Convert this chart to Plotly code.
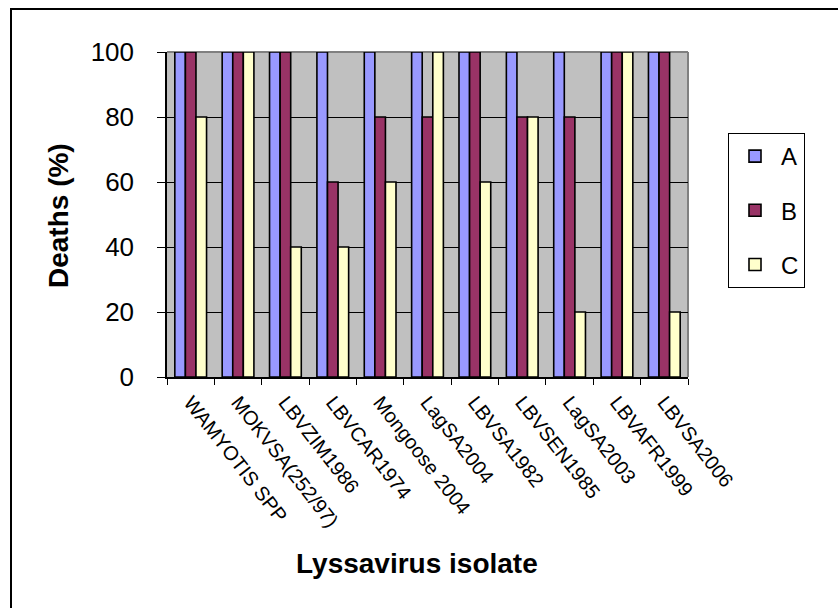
import plotly.graph_objects as go

# Lyssavirus isolates and percent deaths for the three groups
isolates = [
    "WAMYOTIS SPP", "MOKVSA(252/97)", "LBVZIM1986", "LBVCAR1974",
    "Mongoose 2004", "LagSA2004", "LBVSA1982", "LBVSEN1985",
    "LagSA2003", "LBVAFR1999", "LBVSA2006",
]
deaths_a = [100, 100, 100, 100, 100, 100, 100, 100, 100, 100, 100]
deaths_b = [100, 100, 100, 60, 80, 80, 100, 80, 80, 100, 100]
deaths_c = [80, 100, 40, 40, 60, 100, 60, 80, 20, 100, 20]

series = [
    ("A", deaths_a, "#9999FF"),
    ("B", deaths_b, "#993366"),
    ("C", deaths_c, "#FFFFCC"),
]

FONT = "Liberation Sans, Arial, sans-serif"

W, H = 838, 608
L, R, T, B = 167, 150, 52, 231
pw, ph = W - L - R, H - T - B


def px_x(x):
    return (x - L) / pw


def px_y(y):
    return (H - B - y) / ph


fig = go.Figure()
for name, vals, color in series:
    fig.add_trace(go.Bar(
        x=isolates, y=vals, name=name, legendgroup=name,
        marker=dict(color=color, line=dict(color="black", width=1.6)),
    ))

fig.update_layout(
    width=W, height=H,
    margin=dict(l=L, r=R, t=T, b=B, autoexpand=False),
    paper_bgcolor="white",
    plot_bgcolor="#C0C0C0",
    barmode="group", bargap=0.33, bargroupgap=0,
    font=dict(family=FONT, color="black"),
    showlegend=True,
    legend=dict(
        x=px_x(728), y=px_y(133), xanchor="left", yanchor="top",
        bgcolor="white", bordercolor="black", borderwidth=1,
        font=dict(size=24, family=FONT),
        traceorder="grouped", tracegroupgap=20, itemwidth=42,
    ),
    xaxis=dict(
        type="category", tickson="boundaries",
        ticks="outside", ticklen=6, tickcolor="black", tickwidth=1,
        tickangle=52, tickfont=dict(size=20, family=FONT),
        ticklabelstandoff=4,
        showline=True, linecolor="black", linewidth=1.5,
        showgrid=False, automargin=False,
    ),
    yaxis=dict(
        range=[0, 100], dtick=20, tick0=0,
        ticks="outside", ticklen=8, tickcolor="black", tickwidth=1,
        tickfont=dict(size=26, family=FONT),
        ticklabelstandoff=18,
        showline=True, linecolor="black", linewidth=1.5,
        showgrid=True, gridcolor="black", gridwidth=1,
        zeroline=False, automargin=False,
    ),
    shapes=[
        # plot-area frame on the top and right sides
        dict(type="line", xref="paper", yref="paper", x0=0, x1=1, y0=1, y1=1,
             line=dict(color="#808080", width=2), layer="below"),
        dict(type="line", xref="paper", yref="paper", x0=1, x1=1, y0=0, y1=1,
             line=dict(color="#808080", width=2), layer="below"),
        # chart border
        dict(type="rect", xref="paper", yref="paper",
             x0=px_x(11), y0=-2, x1=3, y1=px_y(9),
             line=dict(color="black", width=2), fillcolor="rgba(0,0,0,0)"),
    ],
    annotations=[
        dict(text="<b>Deaths (%)</b>", xref="paper", yref="paper",
             x=px_x(58), y=px_y(216), xanchor="center", yanchor="middle",
             textangle=-90, showarrow=False,
             font=dict(size=28, family=FONT, color="black")),
        dict(text="<b>Lyssavirus isolate</b>", xref="paper", yref="paper",
             x=px_x(417), y=px_y(563), xanchor="center", yanchor="middle",
             showarrow=False,
             font=dict(size=28, family=FONT, color="black")),
    ],
)

fig.write_html("out.html")
